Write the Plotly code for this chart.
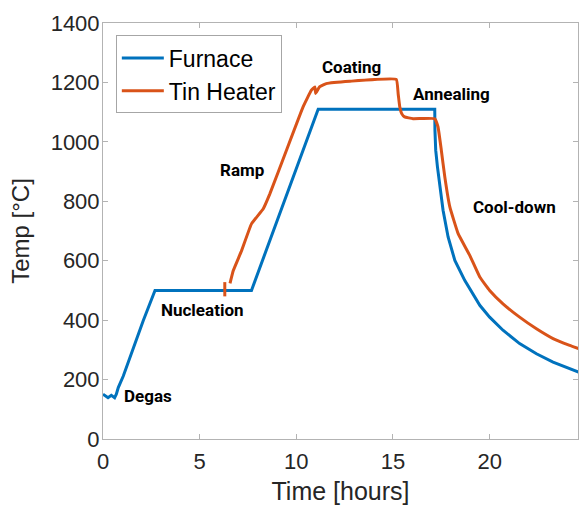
import plotly.graph_objects as go

# Furnace temperature (hours, °C)
furnace_t = [0, 0.26, 0.43, 0.6, 0.69, 0.79, 1.05, 1.48, 2.08, 2.69, 7.68, 11.13,
             17.16, 17.17, 17.21, 17.3, 17.42, 17.59, 17.85, 18.2, 18.71, 18.97,
             19.49, 20.0, 20.69, 21.55, 22.42, 23.28, 24.14, 24.6]
furnace_temp = [151, 139, 147, 139, 151, 173, 212, 291, 398, 500, 500, 1110,
                1110, 1039, 972, 916, 848, 770, 680, 601, 534, 506,
                450, 410, 366, 321, 287, 259, 237, 225]

# Tin heater temperature (hours, °C); None splits the short first segment
tin_t = [6.3, 6.3, None, 6.57, 6.74, 7.17, 7.68, 8.29, 8.63, 9.49, 10.35, 10.78,
         10.96, 11.0, 11.2, 11.55, 12.78, 15.17, 15.27, 15.35, 15.45, 15.6, 16.04,
         17.16, 17.33, 17.5, 17.68, 17.94, 18.37, 18.97, 19.49, 20.0, 20.69,
         21.55, 22.42, 23.28, 24.14, 24.6]
tin_temp = [480, 528, None, 524, 567, 634, 724, 775, 825, 972, 1118, 1174,
            1185, 1163, 1185, 1196, 1204, 1210, 1160, 1118, 1095, 1084, 1078,
            1078, 1050, 972, 882, 781, 691, 618, 545, 500, 455,
            410, 371, 338, 315, 304]

# Stage labels
stage_names = ["Degas", "Nucleation", "Ramp", "Coating", "Annealing", "Cool-down"]
stage_t = [1.0, 2.9, 5.95, 11.2, 15.95, 19.05]
stage_temp = [144, 435, 905, 1251, 1160, 781]

x_ticks = [0, 5, 10, 15, 20]
y_ticks = [0, 200, 400, 600, 800, 1000, 1200, 1400]

BLUE = "#0072BD"
ORANGE = "#D95319"
TXT = "#262626"
AX = "#b3b3b3"

fig = go.Figure()
fig.add_trace(go.Scatter(x=furnace_t, y=furnace_temp, mode="lines", name="Furnace",
                         line=dict(color=BLUE, width=3)))
fig.add_trace(go.Scatter(x=tin_t, y=tin_temp, mode="lines", name="Tin Heater",
                         line=dict(color=ORANGE, width=3, shape="spline", smoothing=0.3),
                         connectgaps=False))

for name, t, v in zip(stage_names, stage_t, stage_temp):
    fig.add_annotation(x=t, y=v, text="<b>" + name + "</b>", showarrow=False,
                       xanchor="left", yanchor="middle",
                       font=dict(family="Roboto", size=17, color="#000000"))

fig.update_layout(
    width=579, height=505,
    margin=dict(l=103, r=1, t=23, b=66),
    paper_bgcolor="white", plot_bgcolor="white",
    font=dict(family="Liberation Sans", color=TXT),
    showlegend=True,
    legend=dict(x=0.027, y=0.97, xanchor="left", yanchor="top",
                bgcolor="white", bordercolor="#a6a6a6", borderwidth=1,
                itemwidth=42,
                font=dict(size=23, color="#000000"), tracegroupgap=0),
)
fig.update_xaxes(range=[0, 24.57], tickvals=x_ticks, ticktext=[str(v) for v in x_ticks],
                 automargin=False,
                 showgrid=False, zeroline=False, showline=True, linecolor=AX, linewidth=1,
                 mirror="ticks", ticks="inside", ticklen=5, tickcolor=AX,
                 ticklabelstandoff=3,
                 tickfont=dict(size=22, color=TXT),
                 title=dict(text="Time [hours]", font=dict(size=25, color=TXT), standoff=13))
fig.update_yaxes(range=[0, 1400], tickvals=y_ticks, ticktext=[str(v) for v in y_ticks],
                 automargin=False,
                 showgrid=False, zeroline=False, showline=True, linecolor=AX, linewidth=1,
                 mirror="ticks", ticks="inside", ticklen=5, tickcolor=AX,
                 ticklabelstandoff=-2,
                 tickfont=dict(size=22, color=TXT),
                 title=dict(text="Temp [°C]", font=dict(size=24, color=TXT), standoff=14))

fig.write_html("out.html", config={"displayModeBar": False},
               post_script="document.body.style.margin='0';document.body.style.overflow='hidden';")
